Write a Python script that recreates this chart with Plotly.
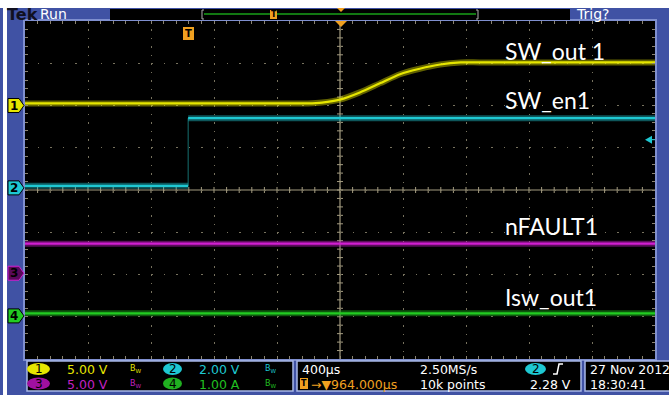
import plotly.graph_objects as go

# ---------------- data (physical units) ----------------
# time in microseconds relative to trigger (ch2 rising edge)
t_ch1 = [-1036, 760, 850, 964, 1090, 1220, 1345, 1470, 1600, 1730, 1850, 2964]
v_ch1 = [0.25, 0.25, 0.35, 0.70, 1.55, 2.65, 3.70, 4.35, 4.85, 5.10, 5.10, 5.10]   # SW_out 1 (V)

t_ch2 = [-1036, 0, 0, 2964]
v_ch2 = [0.10, 0.10, 3.30, 3.30]          # SW_en1 (V)

t_ch3 = [-1036, 2964]
v_ch3 = [3.50, 3.50]                      # nFAULT1 (V)

t_ch4 = [-1036, 2964]
i_ch4 = [0.06, 0.06]                      # Isw_out1 (A)

trace_labels = ["SW_out 1", "SW_en1", "nFAULT1", "Isw_out1"]
scale_labels = ["5.00 V", "2.00 V", "5.00 V", "1.00 A"]
time_per_div = 400          # us/div
delay_us = 964              # trigger-to-centre
trig_level = 2.28           # V on ch2

# ---------------- style ----------------
W, H = 669, 395
L, R, T, B = 25, 655, 21, 359
BLUE = "#4052a4"
YEL, CYA, MAG, GRN, ORG = "#e6e600", "#1ec8d2", "#d21ed2", "#22cc22", "#f0a020"
TAN = "#8c8470"
CTAN = "#a49c80"

def PX(x):
    return (x - L) / (R - L)

def PY(y):
    return (B - y) / (B - T)

x_lo = delay_us - 5 * time_per_div
x_hi = delay_us + 5 * time_per_div

# channel vertical scale (units/div) and ground position (div above centre)
ch_scale = [5.0, 2.0, 5.0, 1.0]
ch_pos = [2.0, 0.05, -1.97, -2.98]
ch_col = [YEL, CYA, MAG, GRN]
ch_glow = ["rgba(215,215,0,0.45)", "rgba(30,190,200,0.45)", "rgba(200,30,200,0.45)", "rgba(30,190,30,0.45)"]

fig = go.Figure()

def to_div(vals, k):
    # scope vertical scale: value -> graticule divisions for channel k
    return [None if v is None else ch_pos[k] + v / ch_scale[k] for v in vals]

def add_band(tx, vy, k):
    yd = to_div(vy, k)
    fig.add_trace(go.Scatter(x=tx, y=yd, mode="lines", hoverinfo="skip",
                             line=dict(color=ch_glow[k], width=6, shape="spline", smoothing=0.6),
                             showlegend=False))
    fig.add_trace(go.Scatter(x=tx, y=yd, mode="lines", hoverinfo="skip",
                             line=dict(color=ch_col[k], width=2.2, shape="spline", smoothing=0.6),
                             showlegend=False))

add_band(t_ch1, v_ch1, 0)
# ch2: dim fast edge, low segment, high segment
fig.add_trace(go.Scatter(x=t_ch2[1:3], y=to_div(v_ch2[1:3], 1), mode="lines", hoverinfo="skip",
                         line=dict(color="rgba(30,150,150,0.75)", width=1), showlegend=False))
add_band(t_ch2[0:2], v_ch2[0:2], 1)
add_band(t_ch2[2:4], v_ch2[2:4], 1)
add_band(t_ch3, v_ch3, 2)
add_band(t_ch4, i_ch4, 3)

grid_col = "#77725e"

fig.update_layout(
    width=W, height=H,
    margin=dict(l=L, r=W - R, t=T, b=H - B, pad=0, autoexpand=False),
    paper_bgcolor=BLUE, plot_bgcolor="black",
    showlegend=False,
    xaxis=dict(range=[x_lo, x_hi], tick0=x_lo, dtick=time_per_div, showgrid=True,
               gridcolor=grid_col, griddash="1.5px,6.95px", gridwidth=1,
               zeroline=False, showticklabels=False, ticks="inside", ticklen=3,
               tickcolor=TAN, mirror="allticks", showline=True, linecolor="#7f8fcf", linewidth=1.5,
               minor=dict(dtick=time_per_div / 5, tick0=x_lo, ticks="inside", ticklen=3, tickcolor=TAN, showgrid=False)),
    yaxis=dict(range=[-4, 4], dtick=1, tick0=-4, showgrid=True, gridcolor=grid_col,
               griddash="1.5px,11.1px", gridwidth=1, zeroline=False, showticklabels=False,
               ticks="inside", ticklen=3, tickcolor=TAN, mirror="allticks", showline=True,
               linecolor="#7f8fcf", linewidth=1.5,
               minor=dict(dtick=0.2, tick0=-4, ticks="inside", ticklen=3, tickcolor=TAN, showgrid=False)),
)

shapes = []
ann = []

def rect(x0, y0, x1, y1, fill, line=None, lw=0, layer="above"):
    shapes.append(dict(type="rect", xref="paper", yref="paper", x0=PX(x0), x1=PX(x1),
                       y0=PY(y0), y1=PY(y1), fillcolor=fill,
                       line=dict(color=line or fill, width=lw), layer=layer))

def path(pts, fill, line=None, lw=0, closed=True, layer="above", ref="paper"):
    d = "M " + " L ".join("%f,%f" % (PX(a), PY(b)) for a, b in pts) + (" Z" if closed else "")
    if ref == "paper":
        xr, yr = "paper", "paper"
    else:
        xr, yr = "x domain", "y domain"
    shp = dict(type="path", xref=xr, yref=yr, path=d,
               line=dict(color=line or fill, width=lw), layer=layer)
    if closed:
        shp["fillcolor"] = fill
    shapes.append(shp)

def ellipse(x0, y0, x1, y1, fill):
    shapes.append(dict(type="circle", xref="paper", yref="paper", x0=PX(x0), x1=PX(x1),
                       y0=PY(y0), y1=PY(y1), fillcolor=fill, line=dict(color=fill, width=0)))

def text(x, y, s, color="white", size=12.5, anchor="left", family="DejaVu Sans", bold=False):
    ann.append(dict(x=PX(x), y=PY(y), xref="paper", yref="paper", text=("<b>%s</b>" % s) if bold else s,
                    showarrow=False, xanchor=anchor, yanchor="middle",
                    font=dict(color=color, size=size, family=family)))

# centre graticule cross with sub-division ticks (decoration, below traces)
cx = (L + R) / 2
cy = (T + B) / 2
path([(cx, T), (cx, B)], None, line=CTAN, lw=1.2, closed=False, layer="below", ref="dom")
path([(L, cy), (R, cy)], None, line=CTAN, lw=1.2, closed=False, layer="below", ref="dom")
n_sub_x = 50
n_sub_y = 40
for i in range(1, n_sub_x):
    xx = L + i * (R - L) / n_sub_x
    path([(xx, cy - 3), (xx, cy + 3)], None, line=CTAN, lw=1, closed=False, layer="below", ref="dom")
for j in range(1, n_sub_y):
    yy = T + j * (B - T) / n_sub_y
    path([(cx - 3, yy), (cx + 3, yy)], None, line=CTAN, lw=1, closed=False, layer="below", ref="dom")

# outer frame details
rect(0, 0, W, 8, "white")
rect(3, 0, 7, H, "white")

# header
text(22, 14.5, "Tek", color="#101020", size=16, family="DejaVu Sans", bold=True, anchor="center")
text(38, 14, "Run", color="white", size=14)
rect(110, 9, 570, 20, "black")
path([(204, 10), (202, 10), (202, 19), (204, 19)], None, line="#b0b0b0", lw=1, closed=False)
path([(476, 10), (478, 10), (478, 19), (476, 19)], None, line="#b0b0b0", lw=1, closed=False)
path([(204, 14), (476, 14)], None, line="#18a018", lw=1.5, closed=False)
rect(270, 10, 277, 19, ORG)
text(273.5, 14.5, "T", color="black", size=8, anchor="center", bold=True)
path([(337, 8), (345, 8), (341, 12)], ORG)
text(574, 14, "Trig?", color="white", size=14)

# graticule markers
path([(335, 21), (347, 21), (341, 27)], ORG)
rect(183, 27, 194, 40, ORG)
text(188.5, 33.5, "T", color="black", size=10, anchor="center", bold=True)
lvl_y = B - (4 + ch_pos[1] + trig_level / ch_scale[1]) * (B - T) / 8
path([(645, lvl_y), (652, lvl_y - 4), (652, lvl_y + 4)], CYA)
path([(652, lvl_y), (655, lvl_y)], None, line=CYA, lw=1, closed=False)

# channel ground markers
mk_fill = [YEL, CYA, "#5a0a5a", GRN]
mk_line = ["black", "black", MAG, "black"]
for k in range(4):
    yc = B - (4 + ch_pos[k]) * (B - T) / 8
    path([(8, yc - 7), (19, yc - 7), (24, yc), (19, yc + 7), (8, yc + 7)], mk_fill[k], line=mk_line[k], lw=1)
    text(14, yc, str(k + 1), color="black", size=12, anchor="center", bold=True)

# signal names
lab_y = [51, 100, 226, 297]
for k in range(4):
    text(503, lab_y[k], trace_labels[k], color="white", size=23, family="Lato")

# bottom panel
for (x0, x1) in [(27, 293), (297, 581), (585, 672)]:
    rect(x0, 361, x1, 391, "black", line="#a8b8e8", lw=1.5)
row1, row2 = 369, 384
ellipse(27, 363, 50, 375, YEL)
ellipse(27, 377.5, 50, 389.5, "#a010a0")
ellipse(163, 363, 182, 375, CYA)
ellipse(163, 377.5, 182, 389.5, "#20b020")
text(38.5, row1, "1", color="black", size=12, anchor="center")
text(38.5, row2, "3", color="black", size=12, anchor="center")
text(172.5, row1, "2", color="black", size=12, anchor="center")
text(172.5, row2, "4", color="black", size=12, anchor="center")
sc_col = [YEL, CYA, "#c020c0", "#20c020"]
sc_pos = [(65, row1), (197, row1), (65, row2), (197, row2)]
bw_pos = [(128, row1), (263, row1), (128, row2), (263, row2)]
for k in range(4):
    text(sc_pos[k][0], sc_pos[k][1], scale_labels[k], color=sc_col[k], size=12.5)
    text(bw_pos[k][0], bw_pos[k][1], "B<sub>W</sub>", color=sc_col[k], size=8)

text(300, row1, "%dµs" % time_per_div, size=12.5)
text(418, row1, "2.50MS/s", size=12.5)
ellipse(525, 363, 546, 375, CYA)
text(535.5, row1, "2", color="black", size=12, anchor="center")
path([(553, 374), (557, 374), (559, 364), (563, 364)], None, line="white", lw=1.5, closed=False)
rect(300, 378, 308, 389, ORG)
text(304, 383.5, "T", color="black", size=8, anchor="center", bold=True)
text(309, row2, "→▼%.3fµs" % delay_us, color=ORG, size=12.5)
text(418, row2, "10k points", size=12.5)
text(573, row2, "%.2f V" % trig_level, size=12.5, anchor="right")
text(588, row1, "27 Nov 2012", size=12.5)
text(588, row2, "18:30:41", size=12.5)

fig.update_layout(shapes=shapes, annotations=ann)
fig.write_html("out.html", config={"displayModeBar": False},
               post_script="document.body.style.margin='0px';")
